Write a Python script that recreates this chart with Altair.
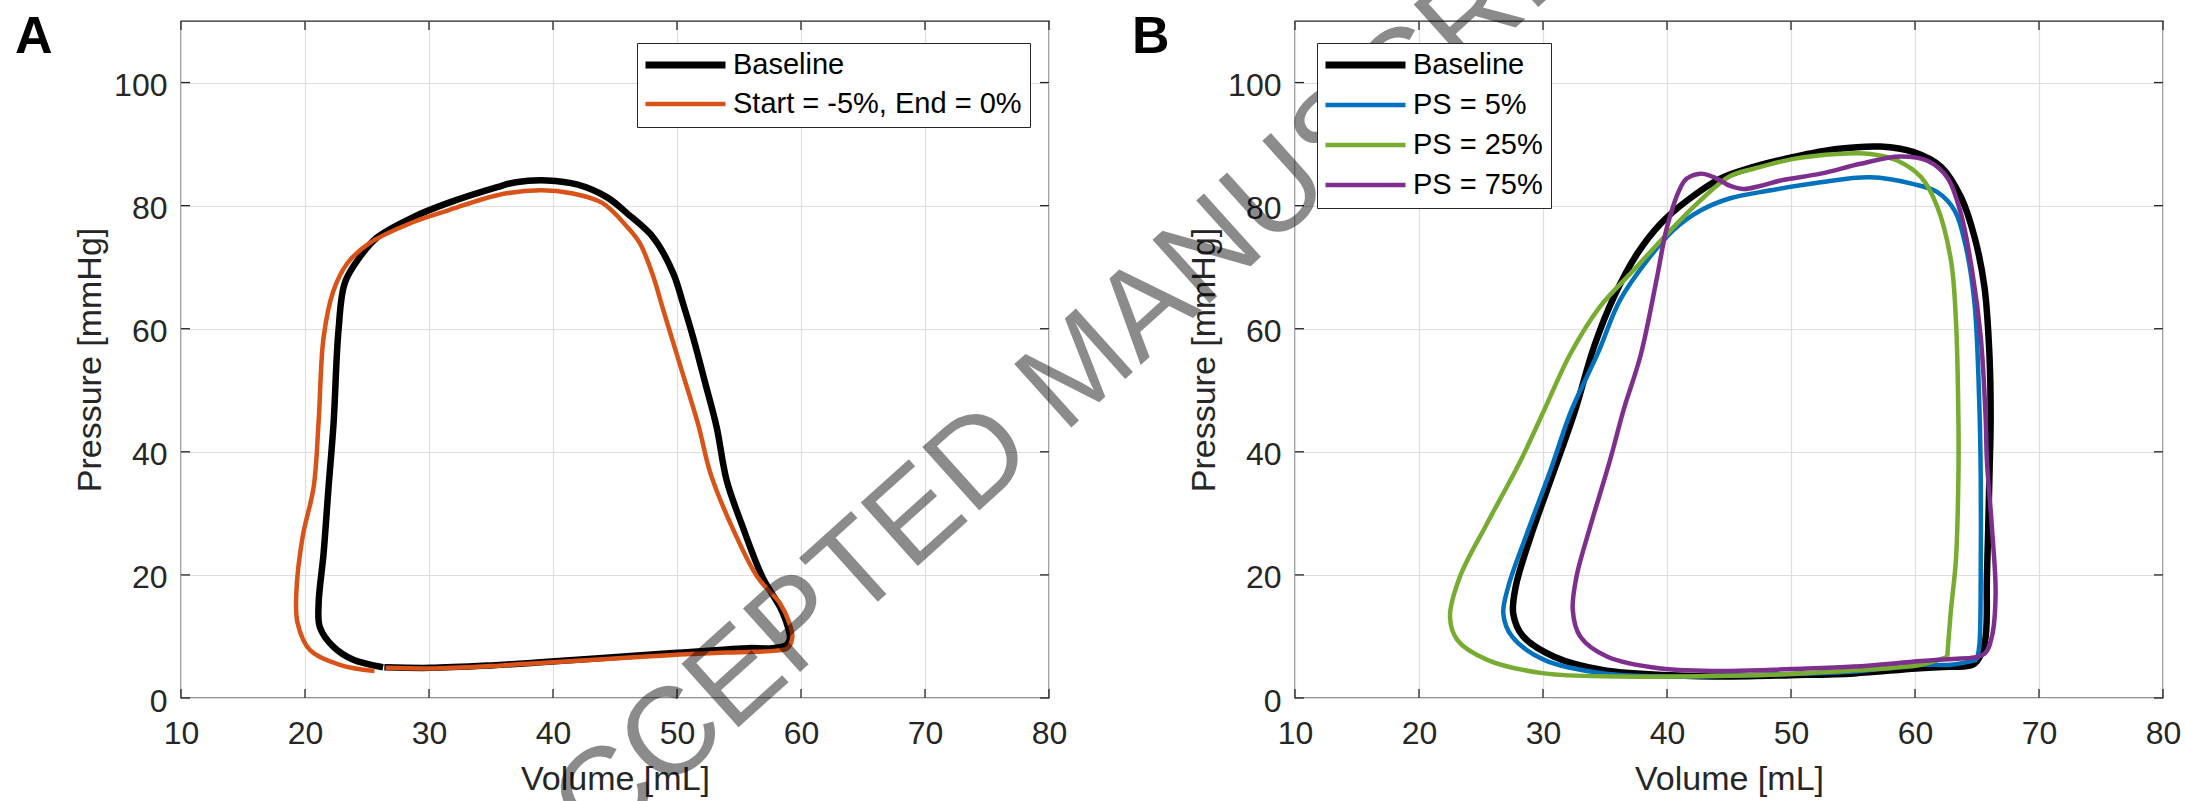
import altair as alt
import pandas as pd

# ---------------- data ----------------
# Panel A
A_base_vol = [26.4, 30.1, 35.0, 39.0, 44.0, 49.7, 54.0, 55.8, 57.7, 58.8, 59.1, 58.9, 58.3, 56.9, 55.3, 54.0,
              53.2, 52.3, 51.3, 50.5, 49.7, 48.1, 46.0, 44.4, 42.0, 39.5, 37.0, 35.5, 31.5, 28.7, 25.8, 24.4,
              23.2, 22.7, 22.3, 21.9, 21.5, 21.1, 21.2, 22.3, 23.9, 26.3]
A_base_p = [5.0, 4.9, 5.3, 5.8, 6.5, 7.3, 7.9, 8.1, 8.1, 8.6, 9.6, 11.8, 14.8, 19.6, 27.8, 35.4,
            44.0, 51.0, 58.6, 64.0, 69.0, 74.8, 78.7, 81.3, 83.4, 84.1, 83.8, 83.0, 80.4, 78.1, 74.8, 71.6,
            67.4, 59.7, 44.5, 34.3, 23.5, 15.4, 11.5, 8.3, 6.2, 5.0]

A_mod_vol = [26.5, 30.1, 35.0, 39.0, 44.0, 49.7, 54.0, 56.1, 58.0, 58.9, 59.3, 59.0, 58.3, 56.5, 54.3, 52.7,
             51.7, 50.2, 48.9, 48.0, 47.0, 46.0, 44.0, 41.5, 39.0, 35.5, 31.5, 28.7, 25.2, 23.4, 22.3, 21.5,
             21.1, 20.7, 19.8, 19.3, 19.4, 20.4, 22.8, 25.6]
A_mod_p = [4.9, 4.8, 5.2, 5.7, 6.3, 7.0, 7.4, 7.5, 7.7, 8.1, 9.9, 12.5, 15.4, 19.6, 28.4, 36.5,
           44.5, 54.4, 63.0, 69.0, 73.9, 76.5, 80.4, 82.0, 82.5, 81.7, 79.2, 77.3, 73.9, 70.6, 66.2, 58.6,
           45.0, 34.3, 26.1, 17.0, 12.2, 7.8, 5.4, 4.4]

# Panel B
B_base_vol = [63.2, 64.8, 65.6, 65.8, 66.0, 66.1, 66.0, 65.6, 64.8, 63.7, 62.1, 59.9, 57.2, 53.7, 50.2, 47.0,
              44.3, 41.6, 39.5, 37.6, 35.7, 34.1, 32.6, 30.9, 29.0, 27.8, 27.6, 28.4, 30.9, 34.9, 40.3, 45.1,
              50.0, 55.1, 60.1, 63.2]
B_base_p = [5.1, 5.6, 8.8, 19.7, 35.9, 45.4, 55.9, 66.8, 74.9, 81.4, 86.3, 88.7, 89.6, 89.2, 87.9, 86.3,
            84.4, 80.8, 77.1, 72.2, 65.1, 57.0, 46.8, 37.0, 26.2, 18.1, 13.7, 10.0, 6.7, 4.5, 3.7, 3.5,
            3.7, 4.0, 4.8, 5.1]

B_ps5_vol = [65.0, 65.2, 65.3, 65.3, 65.2, 64.8, 64.1, 63.2, 61.8, 59.9, 56.4, 52.4, 48.4, 45.1, 42.7, 40.5,
             38.4, 36.2, 34.4, 32.3, 30.6, 28.7, 27.2, 26.8, 27.5, 30.1, 34.9, 40.3, 45.0, 50.0, 55.1, 60.5,
             62.9, 65.0]
B_ps5_p = [6.2, 8.8, 19.7, 35.9, 46.8, 64.1, 73.3, 79.2, 82.2, 83.5, 84.6, 83.8, 82.5, 81.2, 79.2, 76.0,
           71.1, 64.6, 55.9, 46.8, 37.0, 26.7, 18.1, 13.7, 10.0, 6.2, 4.0, 3.5, 3.6, 3.9, 4.3, 5.4,
           5.4, 6.2]

B_ps25_vol = [62.6, 62.9, 63.3, 63.5, 63.5, 63.3, 62.9, 61.8, 60.5, 58.6, 56.4, 53.7, 50.2, 47.0, 45.1, 42.4,
              40.0, 37.3, 34.6, 32.2, 30.1, 28.2, 25.5, 23.3, 22.5, 23.1, 25.5, 30.1, 36.2, 45.1, 50.0, 55.1,
              60.5, 62.6]
B_ps25_p = [6.7, 14.3, 22.4, 35.9, 45.4, 61.4, 71.1, 79.8, 84.6, 87.3, 88.4, 88.4, 87.6, 86.0, 84.8, 80.3,
            75.4, 69.5, 63.6, 55.9, 46.8, 38.6, 28.4, 19.7, 13.2, 9.4, 6.2, 4.0, 3.5, 3.6, 3.9, 4.5,
            5.4, 6.7]

B_ps75_vol = [63.7, 65.6, 66.2, 66.5, 66.2, 65.8, 65.7, 65.3, 64.6, 63.7, 62.6, 61.0, 58.8, 55.6, 52.4, 49.2,
              47.5, 46.2, 45.1, 43.8, 42.7, 41.6, 41.1, 40.0, 39.2, 37.9, 36.5, 35.4, 33.8, 32.7, 32.4, 33.0,
              35.2, 39.5, 45.1, 50.0, 55.1, 60.5, 63.7]
B_ps75_p = [6.4, 7.2, 10.0, 17.0, 27.8, 38.6, 45.4, 58.7, 69.5, 78.7, 84.6, 87.3, 88.0, 86.8, 85.2, 84.1,
            83.2, 82.7, 83.2, 84.6, 85.2, 84.4, 83.0, 76.5, 68.4, 55.9, 46.8, 38.6, 27.8, 19.7, 14.3, 10.0,
            6.7, 4.8, 4.4, 4.7, 5.1, 6.0, 6.4]

x_ticks = [10, 20, 30, 40, 50, 60, 70, 80]
y_ticks = [0, 20, 40, 60, 80, 100]

A_names = ["Baseline", "Start = -5%, End = 0%"]
B_names = ["Baseline", "PS = 5%", "PS = 25%", "PS = 75%"]
A_colors = ["#000000", "#D95319"]
B_colors = ["#000000", "#0072BD", "#77AC30", "#7E2F8E"]
A_widths = [6.5, 4.5]
B_widths = [6.5, 4.5, 4.5, 4.5]

A_vols = [A_base_vol, A_mod_vol]
A_ps = [A_base_p, A_mod_p]
B_vols = [B_base_vol, B_ps5_vol, B_ps25_vol, B_ps75_vol]
B_ps = [B_base_p, B_ps5_p, B_ps25_p, B_ps75_p]

# ---------------- styling ----------------
W, H = 868, 677
TICK = 9
FRAME = "#262626"
FONT = "Liberation Sans"

xs = alt.Scale(domain=[10, 80], nice=False, zero=False)
ys = alt.Scale(domain=[0, 110], nice=False, zero=False)

x_axis = alt.Axis(values=x_ticks, title="Volume [mL]", grid=True, ticks=False, tickSize=0,
                  domain=False, labelPadding=20, titlePadding=13, labelFlush=False,
                  labelOverlap=False)
y_axis = alt.Axis(values=y_ticks, title="Pressure [mmHg]", grid=True, ticks=False, tickSize=0,
                  domain=False, labelPadding=14, titlePadding=6, labelFlush=False,
                  labelOverlap=False, labelOffset=3)


def X(f):
    return alt.X(f, scale=xs, axis=x_axis)


def Y(f):
    return alt.Y(f, scale=ys, axis=y_axis)


xt = pd.DataFrame({"t": x_ticks})
yt = pd.DataFrame({"t": y_ticks})
rule_style = dict(color=FRAME, strokeWidth=1.3)


def tick_layers():
    return [
        alt.Chart(xt).mark_rule(**rule_style).encode(x=X("t:Q"), y=alt.value(0), y2=alt.value(TICK)),
        alt.Chart(xt).mark_rule(**rule_style).encode(x=X("t:Q"), y=alt.value(H), y2=alt.value(H - TICK)),
        alt.Chart(yt).mark_rule(**rule_style).encode(y=Y("t:Q"), x=alt.value(0), x2=alt.value(TICK)),
        alt.Chart(yt).mark_rule(**rule_style).encode(y=Y("t:Q"), x=alt.value(W), x2=alt.value(W - TICK)),
    ]


def line_layers(names, vols, ps, colors, widths, legend):
    layers = []
    for name, v, p, w in zip(names, vols, ps, widths):
        df = pd.DataFrame({"vol": v, "p": p, "i": list(range(len(v)))})
        df["series"] = name
        df["w"] = w
        layers.append(
            alt.Chart(df).mark_line(interpolate="catmull-rom", strokeJoin="round").encode(
                x=X("vol:Q"),
                y=Y("p:Q"),
                order="i:Q",
                color=alt.Color("series:N", scale=alt.Scale(domain=names, range=colors),
                                sort=names, legend=legend),
                strokeWidth=alt.StrokeWidth("w:Q", scale=None, legend=None),
            )
        )
    return layers


def make_legend(lx, ly, row_pad):
    # an 80px long line symbol drawn to the right of a 28px symbol slot
    return alt.Legend(
        title=None, orient="none", legendX=lx, legendY=ly,
        symbolType="M-1,0H4.714", symbolSize=784, clipHeight=28, rowPadding=row_pad,
        symbolStrokeWidth=alt.ExprRef("datum.value === 'Baseline' ? 7 : 4.5"),
        labelFont=FONT, labelFontSize=29, labelColor="black", labelOffset=59, labelLimit=600,
        padding=8, fillColor="white", strokeColor=FRAME, symbolOpacity=1,
    )


def panel_label(letter, dx):
    return alt.Chart(pd.DataFrame({"s": [letter]})).mark_text(
        font=FONT, fontWeight="bold", fontSize=52, align="left",
        baseline="alphabetic", color="black",
    ).encode(text="s:N", x=alt.value(dx), y=alt.value(32))


watermark = alt.Chart(pd.DataFrame({"s": ["ACCEPTED MANUSCRIPT"]})).mark_text(
    font=FONT, fontSize=124, angle=318, align="center", baseline="middle",
    color="black", opacity=0.45,
).encode(text="s:N", x=alt.value(-215), y=alt.value(349))

panelA = alt.layer(
    *tick_layers(),
    *line_layers(A_names, A_vols, A_ps, A_colors, A_widths, make_legend(456, 22, 10)),
    panel_label("A", -166),
).properties(width=W, height=H)

panelB = alt.layer(
    *tick_layers(),
    *line_layers(B_names, B_vols, B_ps, B_colors, B_widths, make_legend(22, 22, 11)),
    panel_label("B", -163),
    watermark,
).properties(width=W, height=H)

chart = (
    alt.hconcat(panelA, panelB, spacing=246, bounds="flush")
    .resolve_scale(color="independent")
    .resolve_legend(color="independent")
    .properties(
        autosize=alt.AutoSizeParams(type="none"),
        padding={"left": 181, "top": 21, "right": 2004, "bottom": 780},
        background="white",
    )
    .configure_view(stroke=FRAME, strokeWidth=1.3)
    .configure_axis(
        labelFont=FONT, labelFontSize=32, labelColor=FRAME,
        titleFont=FONT, titleFontSize=34, titleFontWeight="normal", titleColor=FRAME,
        gridColor="#dedede", gridWidth=1.2, gridOpacity=1,
    )
)

chart.save("out.html", embed_options={"renderer": "svg", "actions": False})
